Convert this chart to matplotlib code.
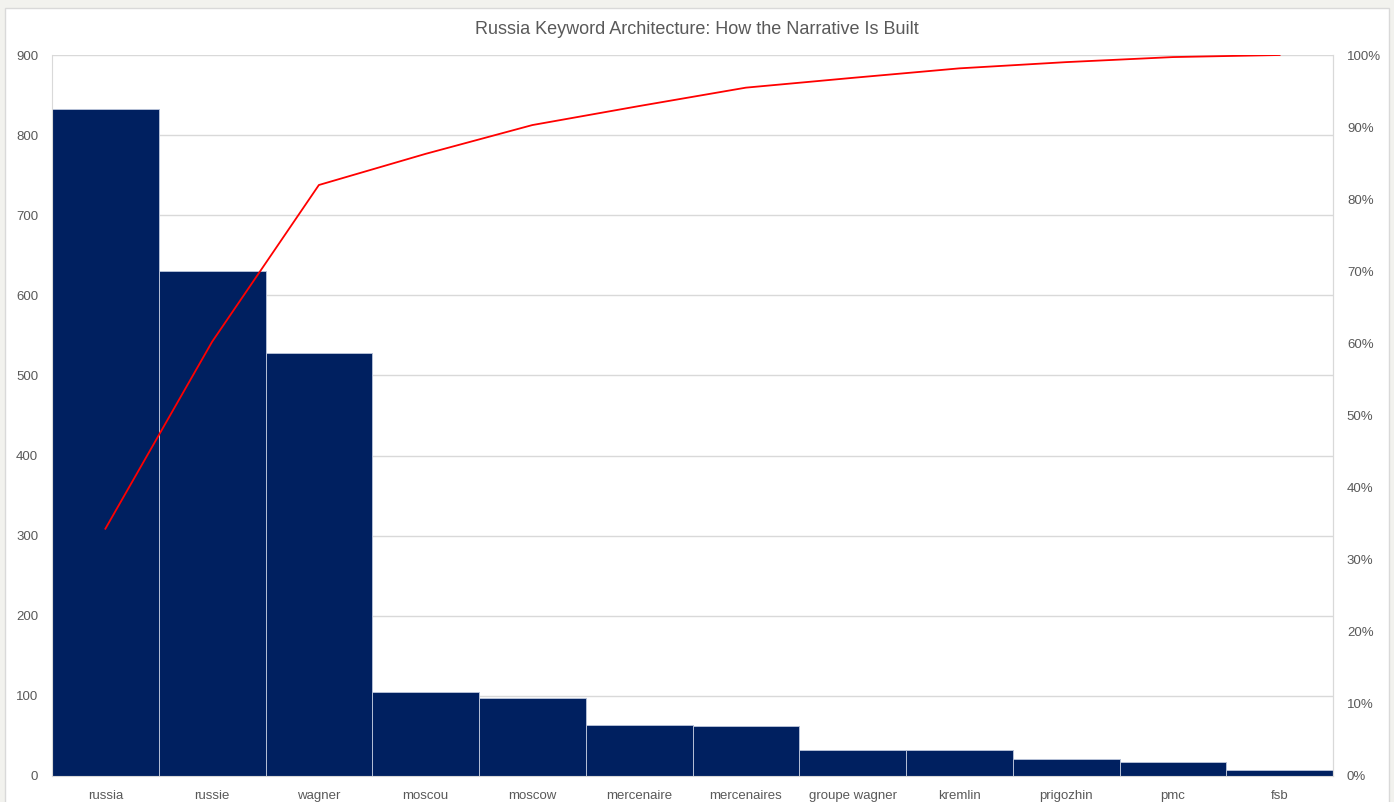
import numpy as np
from matplotlib import pyplot as plt
from matplotlib.patches import Rectangle
from matplotlib.ticker import PercentFormatter

keywords = ['russia', 'russie', 'wagner', 'moscou', 'moscow', 'mercenaire',
            'mercenaires', 'groupe wagner', 'kremlin', 'prigozhin', 'pmc', 'fsb']
counts = [833, 630, 528, 105, 97, 64, 62, 33, 32, 21, 17, 7]
left_ticks = list(range(0, 1000, 100))
right_ticks = [i / 10 for i in range(11)]

plt.rcParams['font.family'] = ['Liberation Sans Narrow', 'Liberation Sans', 'DejaVu Sans']

W, H = 1394, 802
fig = plt.figure(figsize=(W / 100, H / 100), dpi=100)
fig.set_facecolor('#f2f2ee')

# white chart panel, kept behind the axes
fig.patches.append(Rectangle((5 / W, -0.01), 1384 / W, (H - 8) / H + 0.01, transform=fig.transFigure,
                             facecolor='white', edgecolor='#d9d9d9', linewidth=1, zorder=-10))

ax = fig.add_axes([52 / W, (H - 776) / H, (1333 - 52) / W, (776 - 55) / H])
ax.set_facecolor('white')

x = np.arange(len(keywords))
ax.bar(x, counts, width=1.0, color='#002060', edgecolor='#b4bfd6', linewidth=0.7, zorder=2)
ax.set_xlim(-0.5, len(keywords) - 0.5)
ax.set_ylim(0, 900)
ax.set_yticks(left_ticks)
ax.set_xticks(x)
ax.set_xticklabels(keywords)
ax.grid(axis='y', color='#d9d9d9', linewidth=1, zorder=0)
ax.set_axisbelow(True)
ax.tick_params(axis='both', length=0, labelsize=9.5, labelcolor='#595959')
ax.tick_params(axis='y', pad=10)
ax.tick_params(axis='x', pad=10)
ax.spines['top'].set_visible(False)
for s in ['left', 'bottom', 'right']:
    ax.spines[s].set_color('#d9d9d9')

cum = np.cumsum(counts) / np.sum(counts)
ax2 = ax.twinx()
ax2.plot(x, cum, color='#ff0000', linewidth=1.3, zorder=3)
ax2.set_ylim(0, 1)
ax2.set_yticks(right_ticks)
ax2.yaxis.set_major_formatter(PercentFormatter(1.0, decimals=0))
ax2.tick_params(axis='y', length=0, labelsize=9.5, labelcolor='#595959', pad=10)
for s in ['top', 'left', 'bottom']:
    ax2.spines[s].set_visible(False)
ax2.spines['right'].set_color('#d9d9d9')

fig.text(0.5, (H - 29) / H, 'Russia Keyword Architecture: How the Narrative Is Built',
         ha='center', va='center', fontsize=13, color='#595959')

fig.savefig('out.png', dpi=100, facecolor=fig.get_facecolor())
